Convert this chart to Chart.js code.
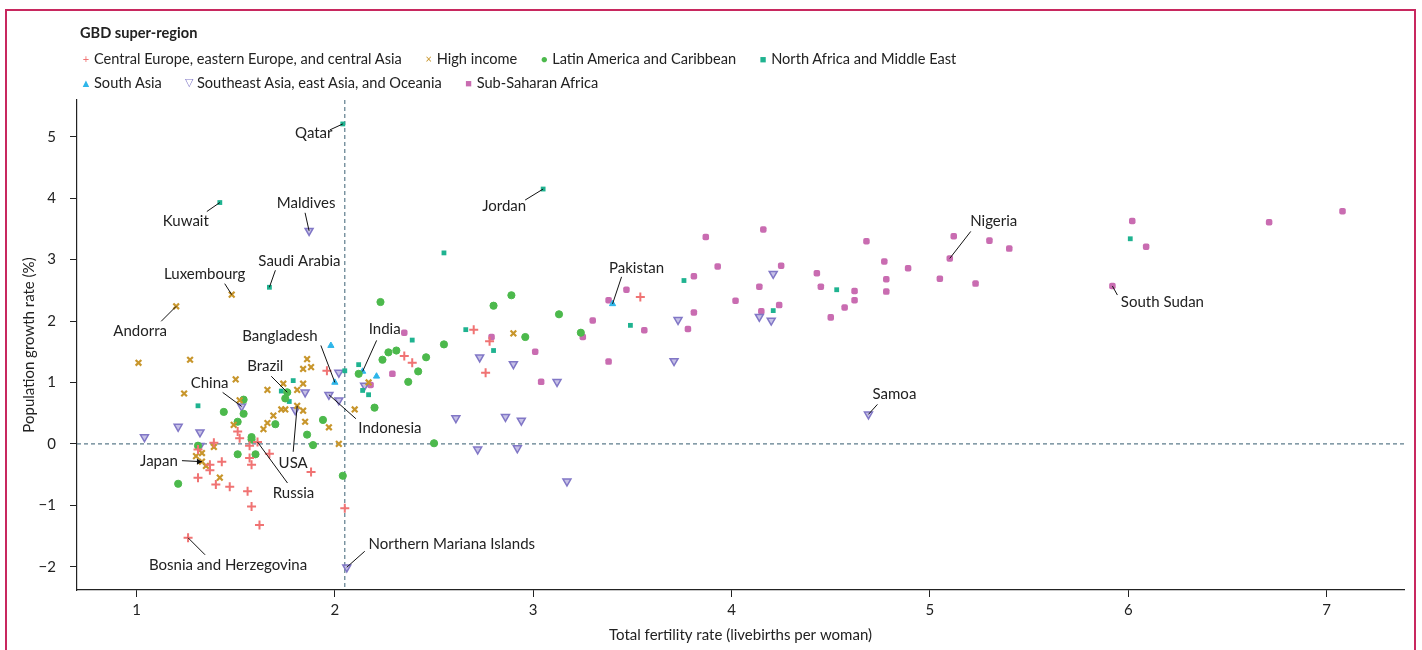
<!DOCTYPE html>
<html>
<head>
<meta charset="utf-8">
<script src="https://cdn.jsdelivr.net/npm/chart.js@4.4.1/dist/chart.umd.min.js"></script>
<style>
  body { margin: 0; background: #fff; font-family: Lato, "Open Sans", sans-serif; }
  #wrap { position: relative; width: 1422px; height: 650px; overflow: hidden; }
  #frame { position: absolute; left: 5px; top: 9px; width: 1411px; height: 700px;
           border: 2px solid #c8285f; border-bottom: none; box-sizing: border-box; }
  #legend { position: absolute; left: 80px; top: 24px; font-size: 14.6px; color: #222; }
  #legend .title { font-weight: bold; margin-bottom: 5px; }
  #legend .row { display: flex; align-items: center; height: 24px; }
  #legend .item { display: flex; align-items: center; margin-right: 21px; }
  #legend .mk { width: 12px; text-align: center; font-size: 11px; margin-right: 2px; }
  canvas { position: absolute; left: 0; top: 0; }
</style>
</head>
<body>
<div id="wrap">
  <div id="frame"></div>
  <canvas id="myChart" width="1422" height="650"></canvas>
  <div id="legend"></div>
</div>
<script>
// GBD super-regions: [total fertility rate, population growth rate %]
// labelled countries sit at the start of each list
var centralEurope = [
  [1.26, -1.53], [1.61, 0.03],
  [1.39, 0.02], [1.31, -0.09], [1.37, -0.34], [1.37, -0.43], [1.43, -0.29],
  [1.31, -0.55], [1.40, -0.66], [1.47, -0.70], [1.96, 1.19], [1.51, 0.20],
  [1.52, 0.09], [1.57, -0.03], [1.67, -0.16], [1.57, -0.23], [1.58, -0.34],
  [1.88, -0.46], [1.56, -0.77], [1.58, -1.02], [1.62, -1.32], [2.05, -1.05],
  [2.70, 1.86], [2.35, 1.43], [2.39, 1.32], [2.78, 1.67], [2.76, 1.16], [3.54, 2.39]
];
var highIncome = [
  [1.48, 2.43], [1.20, 2.24], [1.81, 0.62], [1.33, -0.29],
  [1.01, 1.32], [1.27, 1.37], [1.24, 0.82], [1.39, -0.05], [1.33, -0.15],
  [1.30, -0.20], [1.35, -0.36], [1.42, -0.55], [1.86, 1.38], [1.84, 1.22],
  [1.88, 1.25], [1.50, 1.05], [1.74, 0.98], [1.84, 0.98], [1.66, 0.88],
  [1.81, 0.88], [1.52, 0.71], [2.10, 0.56], [1.73, 0.56], [1.75, 0.56],
  [1.84, 0.54], [1.69, 0.46], [1.85, 0.36], [1.66, 0.34], [1.49, 0.31],
  [1.64, 0.24], [1.97, 0.27], [2.02, 0.00], [2.17, 1.00], [2.90, 1.80]
];
var latinAmerica = [
  [1.76, 0.84],
  [1.44, 0.52], [1.31, -0.03], [1.21, -0.65], [2.12, 1.14], [1.75, 0.74],
  [1.54, 0.72], [1.54, 0.49], [1.94, 0.39], [1.51, 0.36], [1.70, 0.32],
  [1.86, 0.15], [1.58, 0.07], [1.58, 0.11], [1.89, -0.02], [1.51, -0.17],
  [1.60, -0.17], [2.04, -0.52], [2.23, 2.31], [2.89, 2.42], [2.80, 2.25],
  [3.13, 2.11], [2.96, 1.74], [2.55, 1.62], [2.31, 1.52], [2.27, 1.49],
  [2.46, 1.41], [2.24, 1.37], [2.42, 1.18], [2.37, 1.01], [2.20, 0.59],
  [2.50, 0.01], [3.24, 1.81]
];
var northAfrica = [
  [2.04, 5.21], [1.42, 3.93], [1.67, 2.55], [3.05, 4.15],
  [1.31, 0.62], [2.05, 1.19], [1.79, 1.03], [1.73, 0.86], [1.77, 0.69],
  [2.55, 3.11], [2.66, 1.86], [2.39, 1.69], [2.80, 1.52], [2.12, 1.29],
  [2.14, 0.87], [2.17, 0.80], [3.76, 2.66], [4.21, 2.17], [3.49, 1.93],
  [4.53, 2.51], [6.01, 3.34]
];
var southAsia = [
  [2.00, 1.00], [2.14, 1.18], [3.40, 2.28],
  [1.98, 1.60], [2.21, 1.10]
];
var southeastAsia = [
  [1.87, 3.47], [1.53, 0.61], [1.97, 0.80], [4.69, 0.48], [2.06, -2.01],
  [1.21, 0.28], [1.32, 0.19], [1.04, 0.11], [1.32, -0.03], [2.02, 1.16],
  [1.85, 0.84], [2.02, 0.71], [1.80, 0.55], [2.73, 1.41], [2.90, 1.30],
  [2.15, 0.95], [3.12, 1.01], [2.61, 0.42], [2.86, 0.44], [2.94, 0.38],
  [2.72, -0.09], [2.92, -0.07], [3.17, -0.61], [3.73, 2.02], [4.14, 2.07],
  [4.20, 2.01], [4.21, 2.77], [3.71, 1.35]
];
var subSaharan = [
  [5.10, 3.02], [5.92, 2.57],
  [2.35, 1.81], [2.79, 1.74], [3.01, 1.50], [2.29, 1.14], [3.04, 1.01],
  [2.18, 0.96], [4.16, 3.49], [3.87, 3.37], [3.93, 2.89], [4.25, 2.90],
  [3.81, 2.73], [3.47, 2.51], [4.14, 2.56], [3.38, 2.34], [4.02, 2.33],
  [3.81, 2.14], [4.15, 2.16], [4.24, 2.26], [3.30, 2.01], [3.25, 1.74],
  [3.56, 1.85], [3.78, 1.87], [3.38, 1.34], [4.68, 3.30], [5.12, 3.38],
  [5.30, 3.31], [5.40, 3.18], [4.77, 2.97], [4.89, 2.86], [4.43, 2.78],
  [4.78, 2.68], [5.05, 2.69], [5.23, 2.61], [4.45, 2.56], [4.62, 2.49],
  [4.78, 2.48], [4.62, 2.34], [4.57, 2.22], [4.50, 2.06], [6.02, 3.63],
  [6.09, 3.21], [6.71, 3.61], [7.08, 3.79]
];

var regionNames = [
  'Central Europe, eastern Europe, and central Asia', 'High income',
  'Latin America and Caribbean', 'North Africa and Middle East',
  'South Asia', 'Southeast Asia, east Asia, and Oceania', 'Sub-Saharan Africa'
];
var xTicks = [1, 2, 3, 4, 5, 6, 7];
var yTicks = [-2, -1, 0, 1, 2, 3, 4, 5];
var replacementTfr = 2.05;

// labelled countries: dataset index, point index, text offset, line start offset (px)
var callouts = [
  { name: 'Qatar', ds: 3, i: 0, tx: -29, ty: 9, lx: -13, ly: 6 },
  { name: 'Kuwait', ds: 3, i: 1, tx: -34, ty: 19, lx: -13, ly: 9 },
  { name: 'Saudi Arabia', ds: 3, i: 2, tx: 30, ty: -26, lx: 6, ly: -17 },
  { name: 'Jordan', ds: 3, i: 3, tx: -39, ty: 17, lx: -18, ly: 11 },
  { name: 'Maldives', ds: 5, i: 0, tx: -3, ty: -28, lx: -4, ly: -18 },
  { name: 'Luxembourg', ds: 1, i: 0, tx: -27, ty: -20, lx: -7, ly: -11 },
  { name: 'Andorra', ds: 1, i: 1, tx: -36, ty: 25, lx: -15, ly: 15 },
  { name: 'Bangladesh', ds: 4, i: 0, tx: -55, ty: -46, lx: -14, ly: -37 },
  { name: 'India', ds: 4, i: 1, tx: 22, ty: -42, lx: 14, ly: -31 },
  { name: 'Pakistan', ds: 4, i: 2, tx: 24, ty: -36, lx: 9, ly: -27 },
  { name: 'Nigeria', ds: 6, i: 0, tx: 44, ty: -37, lx: 21, ly: -27 },
  { name: 'South Sudan', ds: 6, i: 1, tx: 50, ty: 16, lx: 5, ly: 9 },
  { name: 'Brazil', ds: 2, i: 0, tx: -22, ty: -26, lx: -16, ly: -16 },
  { name: 'China', ds: 5, i: 1, tx: -32, ty: -23, lx: -19, ly: -14 },
  { name: 'Indonesia', ds: 5, i: 2, tx: 61, ty: 33, lx: 27, ly: 24 },
  { name: 'Samoa', ds: 5, i: 3, tx: 26, ty: -20, lx: 9, ly: -10 },
  { name: 'Japan', ds: 1, i: 3, tx: -43, ty: -1, lx: -20, ly: -1, arrow: true },
  { name: 'USA', ds: 1, i: 2, tx: -4, ty: 57, lx: -4, ly: 46 },
  { name: 'Russia', ds: 0, i: 1, tx: 36, ty: 51, lx: 30, ly: 41 },
  { name: 'Bosnia and Herzegovina', ds: 0, i: 0, tx: 40, ty: 27, lx: 17, ly: 17 },
  { name: 'Northern Mariana Islands', ds: 5, i: 4, tx: 105, ty: -23, lx: 18, ly: -16 }
];

function toPoints(list) {
  return list.map(function (p) { return { x: p[0], y: p[1] }; });
}

var styles = [
  { pointStyle: 'cross', radius: 4.5, borderWidth: 2, borderColor: '#f07373', backgroundColor: '#f07373', mk: '+', mkColor: '#f07373' },
  { pointStyle: 'crossRot', radius: 4, borderWidth: 2.2, borderColor: '#c8962c', backgroundColor: '#c8962c', mk: '\u00d7', mkColor: '#c8962c' },
  { pointStyle: 'circle', radius: 3.6, borderWidth: 1, borderColor: '#4cb94c', backgroundColor: '#4cb94c', mk: '\u25cf', mkColor: '#4cb94c' },
  { pointStyle: 'rect', radius: 3.4, borderWidth: 0, borderColor: '#1fb390', backgroundColor: '#1fb390', mk: '\u25a0', mkColor: '#1fb390' },
  { pointStyle: 'triangle', radius: 3.6, borderWidth: 1, borderColor: '#2eb6ea', backgroundColor: '#2eb6ea', mk: '\u25b2', mkColor: '#2eb6ea' },
  { pointStyle: 'triangle', radius: 4.6, borderWidth: 1.5, borderColor: '#8177c6', backgroundColor: 'rgba(160,152,214,0.6)', rotation: 180, mk: '\u25bd', mkColor: '#8177c6' },
  { pointStyle: 'rectRounded', radius: 3.8, borderWidth: 0, borderColor: '#c96cb1', backgroundColor: '#c96cb1', mk: '\u25a0', mkColor: '#c96cb1' }
];

var regionData = [centralEurope, highIncome, latinAmerica, northAfrica, southAsia, southeastAsia, subSaharan];

var datasets = regionData.map(function (list, k) {
  var s = styles[k];
  return {
    label: regionNames[k],
    data: toPoints(list),
    pointStyle: s.pointStyle,
    pointRadius: s.radius,
    pointBorderWidth: s.borderWidth,
    pointBorderColor: s.borderColor,
    pointBackgroundColor: s.backgroundColor,
    pointRotation: s.rotation || 0,
    showLine: false
  };
});

// html legend, two rows like the original
var legend = document.getElementById('legend');
var html = '<div class="title">GBD super-region</div>';
[[0, 1, 2, 3], [4, 5, 6]].forEach(function (row) {
  html += '<div class="row">';
  row.forEach(function (k) {
    html += '<div class="item"><span class="mk" style="color:' + styles[k].mkColor + '">' + styles[k].mk +
            '</span><span>' + regionNames[k] + '</span></div>';
  });
  html += '</div>';
});
legend.innerHTML = html;

var refLines = {
  id: 'refLines',
  beforeDatasetsDraw: function (chart) {
    var c = chart.ctx, a = chart.chartArea, xs = chart.scales.x, ys = chart.scales.y;
    c.save();
    c.strokeStyle = '#5d7c8c';
    c.lineWidth = 1.2;
    c.setLineDash([4, 3]);
    var vx = xs.getPixelForValue(replacementTfr);
    c.beginPath(); c.moveTo(vx, a.top); c.lineTo(vx, a.bottom); c.stroke();
    var hy = ys.getPixelForValue(0);
    c.beginPath(); c.moveTo(a.left, hy); c.lineTo(a.right, hy); c.stroke();
    c.restore();
  }
};

var calloutLabels = {
  id: 'calloutLabels',
  afterDatasetsDraw: function (chart) {
    var c = chart.ctx, xs = chart.scales.x, ys = chart.scales.y;
    c.save();
    c.font = '15px Lato';
    c.fillStyle = '#222';
    c.strokeStyle = '#111';
    c.lineWidth = 1;
    c.textAlign = 'center';
    c.textBaseline = 'middle';
    callouts.forEach(function (o) {
      var p = regionData[o.ds][o.i];
      var px = xs.getPixelForValue(p[0]), py = ys.getPixelForValue(p[1]);
      c.beginPath();
      c.moveTo(px + o.lx, py + o.ly);
      c.lineTo(px, py);
      c.stroke();
      if (o.arrow) {
        c.beginPath();
        c.moveTo(px, py); c.lineTo(px - 5, py - 3); c.lineTo(px - 5, py + 3); c.closePath();
        c.fillStyle = '#111'; c.fill(); c.fillStyle = '#222';
      }
      c.fillText(o.name, px + o.tx, py + o.ty);
    });
    c.restore();
  }
};

var ctx = document.getElementById('myChart').getContext('2d');
var myChart = new Chart(ctx, {
  type: 'scatter',
  data: { datasets: datasets },
  plugins: [refLines, calloutLabels],
  options: {
    responsive: false,
    animation: false,
    layout: { padding: { left: 0, top: 100, right: 18, bottom: 0 } },
    plugins: { legend: { display: false }, tooltip: { enabled: false } },
    scales: {
      x: {
        type: 'linear',
        min: 0.70,
        max: 7.39,
        afterBuildTicks: function (s) { s.ticks = xTicks.map(function (v) { return { value: v }; }); },
        afterFit: function (s) { s.height = 60; },
        grid: { drawOnChartArea: false, drawTicks: true, tickLength: 7, color: '#222' },
        border: { display: true, color: '#222', width: 1.2 },
        ticks: { color: '#222', font: { family: 'Lato', size: 15 }, padding: 4 },
        title: { display: true, text: 'Total fertility rate (livebirths per woman)', color: '#222',
                 font: { family: 'Lato', size: 15 }, padding: { top: 4, bottom: 6 } }
      },
      y: {
        type: 'linear',
        min: -2.38,
        max: 5.6,
        afterBuildTicks: function (s) { s.ticks = yTicks.map(function (v) { return { value: v }; }); },
        afterFit: function (s) { s.width = 77; },
        grid: { drawOnChartArea: false, drawTicks: true, tickLength: 7, color: '#222' },
        border: { display: true, color: '#222', width: 1.2 },
        ticks: {
          color: '#222', font: { family: 'Lato', size: 15 }, padding: 14,
          callback: function (v) { return v < 0 ? '\u2212' + Math.abs(v) : v; }
        },
        title: { display: true, text: 'Population growth rate (%)', color: '#222',
                 font: { family: 'Lato', size: 15 }, padding: { top: 20, bottom: 0 } }
      }
    }
  }
});
</script>
</body>
</html>
